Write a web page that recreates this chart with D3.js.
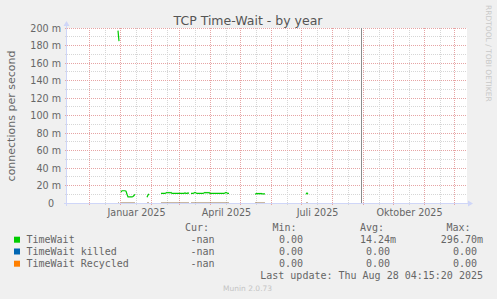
<!DOCTYPE html>
<html><head><meta charset="utf-8">
<script src="https://cdn.jsdelivr.net/npm/d3@7"></script>
<style>
html,body{margin:0;padding:0;background:#f0f0f0;}
svg{display:block;}
text{font-family:"DejaVu Sans",sans-serif;}
.mono{font-family:"DejaVu Sans Mono",monospace;}
</style></head><body>
<svg id="c" width="497" height="299"></svg>
<script>
// ---------- data ----------
const yTicks = [0, 0.02, 0.04, 0.06, 0.08, 0.10, 0.12, 0.14, 0.16, 0.18, 0.20];
const yTickLabels = ["0", "20 m", "40 m", "60 m", "80 m", "100 m", "120 m", "140 m", "160 m", "180 m", "200 m"];
const xLabelDates = ["2025-01-16", "2025-04-16", "2025-07-16", "2025-10-16"];
const xLabels = ["Januar 2025", "April 2025", "Juli 2025", "Oktober 2025"];
const nowDate = "2025-08-29";

// daily samples, one array per contiguous run of data (gaps between runs)
const segStarts = ["2024-12-29", "2025-01-01", "2025-01-27", "2025-02-10", "2025-03-12", "2025-05-15", "2025-07-05"];
const timeWaitSegs = [
  [0.197, 0.185],
  [0.0125, 0.014, 0.014, 0.014, 0.014, 0.0135, 0.010, 0.007, 0.007, 0.007, 0.007, 0.007, 0.0075, 0.0085, 0.010],
  [0.0065, 0.009, 0.0105],
  [0.011, 0.011, 0.011, 0.011, 0.011, 0.0115, 0.012, 0.0115, 0.012, 0.0115, 0.012, 0.011, 0.011, 0.011, 0.011,
   0.011, 0.011, 0.011, 0.011, 0.011, 0.011, 0.011, 0.011, 0.011, 0.0115, 0.011, 0.011, 0.0115, 0.011],
  [0.011, 0.011, 0.011, 0.0115, 0.012, 0.0115, 0.011, 0.011, 0.011, 0.011, 0.011, 0.011, 0.011, 0.0115, 0.012,
   0.0115, 0.012, 0.0115, 0.012, 0.011, 0.011, 0.011, 0.011, 0.011, 0.011, 0.011, 0.011, 0.011, 0.011, 0.011,
   0.011, 0.011, 0.011, 0.011, 0.0115, 0.012, 0.0115, 0.011, 0.011],
  [0.010, 0.0105, 0.011, 0.0105, 0.011, 0.0105, 0.011, 0.0105, 0.0105, 0.0105, 0.0105],
  [0.010, 0.0115, 0.010]
];
const killedSegs = [
  [0, 0],
  [0, 0, 0, 0, 0, 0, 0, 0, 0, 0, 0, 0, 0, 0, 0],
  [0, 0, 0],
  [0, 0, 0, 0, 0, 0, 0, 0, 0, 0, 0, 0, 0, 0, 0, 0, 0, 0, 0, 0, 0, 0, 0, 0, 0, 0, 0, 0, 0],
  [0, 0, 0, 0, 0, 0, 0, 0, 0, 0, 0, 0, 0, 0, 0, 0, 0, 0, 0, 0, 0, 0, 0, 0, 0, 0, 0, 0, 0, 0, 0, 0, 0, 0, 0, 0, 0, 0, 0],
  [0, 0, 0, 0, 0, 0, 0, 0, 0, 0, 0],
  [0, 0, 0]
];
const recycledSegs = killedSegs;

const legendNames = ["TimeWait", "TimeWait killed", "TimeWait Recycled"];
const legendColors = ["#00cc00", "#0066b3", "#ff8000"];
const curVals = ["-nan", "-nan", "-nan"];
const minVals = ["0.00 ", "0.00 ", "0.00 "];
const avgVals = ["14.24m", "0.00 ", "0.00 "];
const maxVals = ["296.70m", "0.00 ", "0.00 "];

// ---------- chart ----------
const svg = d3.select("#c");
const P = {l: 67, r: 467, t: 28, b: 203};
const parse = d3.utcParse("%Y-%m-%d");
const x = d3.scaleUtc().domain([new Date(Date.UTC(2024, 10, 8)), new Date(Date.UTC(2025, 11, 13))]).range([P.l, P.r]);
const y = d3.scaleLinear().domain([0, 0.2]).range([P.b, P.t]);

svg.append("rect").attr("x", P.l).attr("y", P.t).attr("width", P.r - P.l).attr("height", P.b - P.t).attr("fill", "#fff");

const minorCol = "#d6d6d6", majorCol = "#e6a4a4";
// horizontal grid
const minorY = d3.range(0.01, 0.2, 0.02);
minorY.forEach(v => {
  const yy = Math.floor(y(v)) + 0.5;
  svg.append("line").attr("x1", P.l - 2).attr("x2", P.r).attr("y1", yy).attr("y2", yy)
    .attr("stroke", minorCol).attr("stroke-dasharray", "1,1");
});
// vertical grid
const d0 = x.domain()[0], d1 = x.domain()[1];
const months = d3.utcMonth.range(d0, d1);
months.forEach(m => {
  const mid = new Date(Date.UTC(m.getUTCFullYear(), m.getUTCMonth(), 16));
  if (mid > d0 && mid < d1) {
    const xx = Math.round(x(mid)) + 0.5;
    svg.append("line").attr("x1", xx).attr("x2", xx).attr("y1", P.t).attr("y2", P.b + 2)
      .attr("stroke", minorCol).attr("stroke-dasharray", "1,1");
  }
});
yTicks.slice(1).forEach(v => {
  const yy = Math.floor(y(v)) + 0.5;
  svg.append("line").attr("x1", P.l - 2).attr("x2", P.r).attr("y1", yy).attr("y2", yy)
    .attr("stroke", majorCol).attr("stroke-dasharray", "1,1");
});
months.forEach(m => {
  const xx = Math.round(x(m)) - 0.5;
  svg.append("line").attr("x1", xx).attr("x2", xx).attr("y1", P.t).attr("y2", P.b + 2)
    .attr("stroke", majorCol).attr("stroke-dasharray", "1,1");
});

// data lines
function segData(vals) {
  return segStarts.map((s, i) => vals[i].map((v, j) => ({d: d3.utcDay.offset(parse(s), j), v})));
}
const line = d3.line().x(d => x(d.d)).y(d => y(d.v));
const clip = svg.append("clipPath").attr("id", "pc").append("rect")
  .attr("x", P.l).attr("y", P.t).attr("width", P.r - P.l).attr("height", P.b - P.t + 1);
const g = svg.append("g").attr("clip-path", "url(#pc)");
[killedSegs, recycledSegs].forEach((sv, k) => {
  segData(sv).forEach(s => {
    g.append("path").attr("d", line(s)).attr("fill", "none").attr("stroke", legendColors[k + 1])
      .attr("stroke-width", 1).attr("opacity", 0.6);
  });
});
segData(timeWaitSegs).forEach(s => {
  g.append("path").attr("d", line(s)).attr("fill", "none").attr("stroke", legendColors[0]).attr("stroke-width", 1.2);
});

// "now" rule
const nx = Math.floor(x(parse(nowDate))) + 0.5;
svg.append("line").attr("x1", nx).attr("x2", nx).attr("y1", P.t).attr("y2", P.b).attr("stroke", "#8c8c8c").attr("stroke-width", 1);

// axes lines + arrows
const axisCol = "#cfd6f8";
svg.append("line").attr("x1", P.l - 3).attr("x2", P.r + 1).attr("y1", P.b + 0.5).attr("y2", P.b + 0.5).attr("stroke", axisCol);
svg.append("line").attr("x1", P.l - 0.5).attr("x2", P.l - 0.5).attr("y1", P.b + 3).attr("y2", P.t - 3).attr("stroke", axisCol);
svg.append("path").attr("d", `M${P.l - 3.5},${P.t - 2} L${P.l - 0.5},${P.t - 7} L${P.l + 2.5},${P.t - 2} Z`).attr("fill", axisCol);
svg.append("path").attr("d", `M${P.r + 1},${P.b - 2.5} L${P.r + 6},${P.b + 0.5} L${P.r + 1},${P.b + 3.5} Z`).attr("fill", axisCol);

// y axis labels
const ya = svg.append("g").attr("transform", `translate(${P.l},0)`)
  .call(d3.axisLeft(y).tickValues(yTicks).tickFormat((d, i) => yTickLabels[i]).tickSize(0).tickPadding(6));
ya.select(".domain").remove();
ya.selectAll("text").attr("fill", "#666").style("font-size", "9.6px").style("font-family", "DejaVu Sans")
  .attr("dy", "0.36em")
  .filter((d, i) => i === 0).attr("x", -13);

// x axis labels
const xa = svg.append("g").attr("transform", `translate(0,${P.b})`)
  .call(d3.axisBottom(x).tickValues(xLabelDates.map(parse)).tickFormat((d, i) => xLabels[i]).tickSize(0));
xa.select(".domain").remove();
xa.selectAll("text").attr("fill", "#666").style("font-size", "9.6px").style("font-family", "DejaVu Sans")
  .attr("y", 13).attr("dy", 0);

// titles
svg.append("text").attr("x", 248).attr("y", 24.5).attr("text-anchor", "middle").attr("fill", "#555")
  .style("font-size", "12.5px").text("TCP Time-Wait - by year");
svg.append("text").attr("transform", "translate(15,116) rotate(-90)").attr("text-anchor", "middle").attr("fill", "#666")
  .style("font-size", "11px").text("connections per second");
svg.append("text").attr("transform", "translate(485.5,5) rotate(90)").attr("fill", "#c8c8c8")
  .style("font-size", "7.5px").text("RRDTOOL / TOBI OETIKER");

// legend
const rowY = [242.7, 254.5, 266.7];
const leg = svg.append("g").attr("fill", "#666");
const hdr = [["Cur:", 185], ["Min:", 272.5], ["Avg:", 360], ["Max:", 446.5]];
hdr.forEach(h => leg.append("text").attr("class", "mono").attr("x", h[1]).attr("y", 231).style("font-size", "10px").text(h[0]));
legendNames.forEach((n, i) => {
  svg.append("rect").attr("x", 14).attr("y", rowY[i] - 6).attr("width", 6).attr("height", 6).attr("fill", legendColors[i]);
  leg.append("text").attr("class", "mono").attr("x", 26.5).attr("y", rowY[i]).style("font-size", "10px").text(n);
  leg.append("text").attr("class", "mono").attr("x", 214.5).attr("y", rowY[i]).attr("text-anchor", "end").style("font-size", "10px").text(curVals[i]);
  [[minVals, 309], [avgVals, 396], [maxVals, 483]].forEach(c => {
    leg.append("text").attr("class", "mono").attr("x", c[1]).attr("y", rowY[i]).attr("text-anchor", "end")
      .attr("xml:space", "preserve").style("white-space", "pre").style("font-size", "10px").text(c[0][i]);
  });
});
leg.append("text").attr("class", "mono").attr("x", 483).attr("y", 279.3).attr("text-anchor", "end")
  .style("font-size", "10px").text("Last update: Thu Aug 28 04:15:20 2025");
svg.append("text").attr("x", 223).attr("y", 291).attr("fill", "#c4c4c4").style("font-size", "7.5px").text("Munin 2.0.73");
</script>
</body></html>
